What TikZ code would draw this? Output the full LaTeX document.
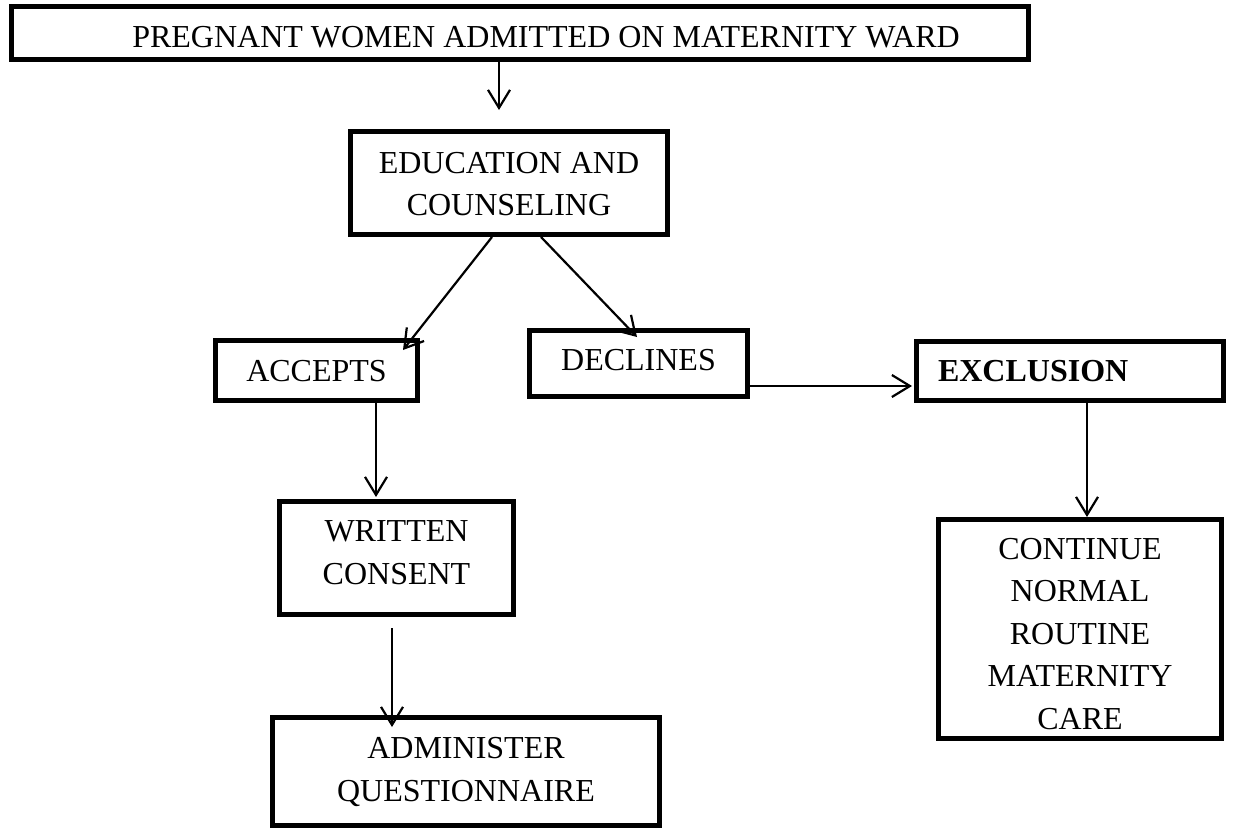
\documentclass[tikz,border=0pt]{standalone}
\usepackage{fontspec}
\setmainfont{Liberation Serif}
\usetikzlibrary{arrows.meta}
\begin{document}
\begin{tikzpicture}[x=1pt,y=-1pt,
  box/.style={draw, line width=5pt, inner sep=0pt, align=center, font=\fontsize{32}{42.5}\selectfont},
  arr/.style={line width=2.2pt, -{Straight Barb[length=18pt,width=22pt,line width=2.2pt]}}]
\useasboundingbox (0,0) rectangle (1233,830);

\node[box, minimum width=1017pt, minimum height=53pt, text height=29pt, text depth=0pt] (top) at (520,33) {\hspace*{52pt}PREGNANT WOMEN ADMITTED ON MATERNITY WARD};
\node[box, minimum width=317pt, minimum height=103pt, text height=65pt, text depth=0pt] (edu) at (509,183) {EDUCATION AND\\COUNSELING};
\node[box, minimum width=202pt, minimum height=60pt, text height=21pt, text depth=0pt] (accepts) at (316.5,370.5) {ACCEPTS};
\node[box, minimum width=218pt, minimum height=66pt, text height=13pt, text depth=0pt] (declines) at (638.5,363.5) {DECLINES};
\node[box, inner xsep=0pt, text width=307pt, minimum height=59pt, align=left, text height=20pt, text depth=0pt] (exclusion) at (1070,371) {\hspace*{21.5pt}\textbf{EXCLUSION}};
\node[box, minimum width=234pt, minimum height=113pt, text height=52pt, text depth=0pt] (written) at (396.5,558) {WRITTEN\\CONSENT};
\node[box, minimum width=387pt, minimum height=108pt, text height=65pt, text depth=6pt] (admin) at (466,771.5) {ADMINISTER\\QUESTIONNAIRE};
\node[box, minimum width=283pt, minimum height=219pt, text height=200pt, text depth=0pt] (continue) at (1080,629) {CONTINUE\\NORMAL\\ROUTINE\\MATERNITY\\CARE};

\draw[arr] ([xshift=-21pt]top.south) -- ([xshift=-10pt,yshift=19pt]edu.north);
\draw[arr] ([xshift=-17pt]edu.south) -- ([xshift=86.5pt,yshift=-12pt]accepts.north);
\draw[arr] ([xshift=32pt]edu.south) -- ([xshift=-1.5pt,yshift=-9pt]declines.north);
\draw[arr] ([xshift=59.5pt]accepts.south) -- ([xshift=-20.5pt,yshift=2pt]written.north);
\draw[arr] ([xshift=-4.5pt,yshift=-11pt]written.south) -- ([xshift=-74pt,yshift=-12pt]admin.north);
\draw[arr] ([yshift=-22.5pt]declines.east) -- ([xshift=-2pt,yshift=-15pt]exclusion.west);
\draw[arr] ([xshift=17pt]exclusion.south) -- ([xshift=7pt]continue.north);
\end{tikzpicture}
\end{document}
